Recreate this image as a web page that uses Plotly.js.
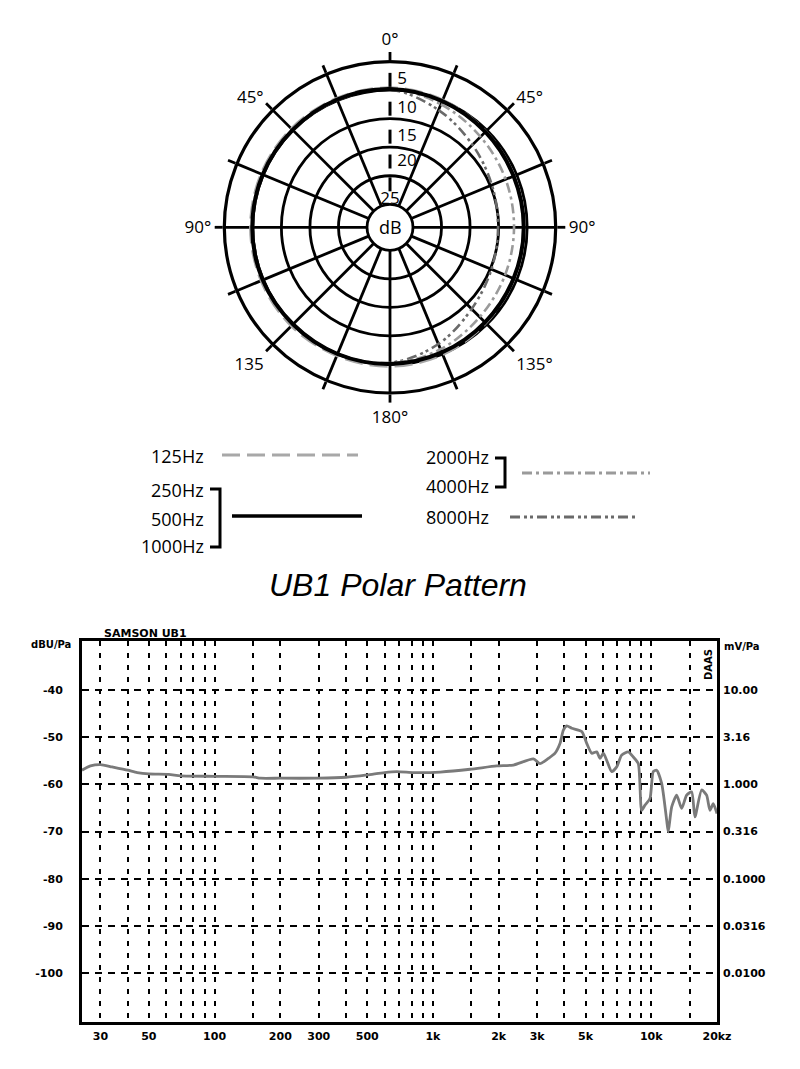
<!DOCTYPE html>
<html>
<head>
<meta charset="utf-8">
<script src="https://cdn.plot.ly/plotly-3.0.1.min.js"></script>
<style>
  html, body { margin: 0; padding: 0; background: #fff; }
  #chart { width: 800px; height: 1069px; }
</style>
</head>
<body>
<div id="chart"></div>
<script>
// ---------------- Polar pattern data (dB, relative) ----------------
const polarAngles = [0, 22.5, 45, 67.5, 90, 112.5, 135, 157.5, 180, 202.5, 225, 247.5, 270, 292.5, 315, 337.5, 360];
const db125   = [-4.6, -4.9, -5.3, -5.5, -5.6, -5.5, -5.3, -4.9, -4.7, -4.7, -4.6, -4.6, -4.6, -4.6, -4.6, -4.6, -4.6];
const db250to1000 = [-4.8, -5.1, -5.4, -5.6, -5.6, -5.6, -5.5, -5.3, -5.1, -5.0, -5.0, -4.9, -4.9, -4.9, -4.9, -4.8, -4.8];
const db2000to4000 = [-4.8, -5.7, -6.6, -7.1, -7.3, -7.2, -6.8, -5.9, -5.2, -5.0, -5.0, -4.9, -4.9, -4.9, -4.9, -4.9, -4.8];
const db8000  = [-4.9, -6.8, -8.6, -9.7, -10.1, -9.8, -8.8, -6.9, -5.3, -5.0, -5.0, -5.0, -5.0, -5.0, -5.0, -4.9, -4.9];

const ringValues = [-25, -20, -15, -10, -5];
const spokeAngles = [22.5, 45, 67.5, 90, 112.5, 135, 157.5, 180, 202.5, 225, 247.5, 270, 292.5, 315, 337.5];
const angTickVals = [0, 22.5, 45, 67.5, 90, 112.5, 135, 157.5, 180, 202.5, 225, 247.5, 270, 292.5, 315, 337.5];
const angTickText = ['0°', '', '45°', '', '90°', '', '135°', '', '180°', '', '135', '', '90°', '', '45°', ''];
const radialLabelText = ['5', '10', '15', '20', '25'];
const radialLabelR = [-3.2, -8.25, -13.15, -17.5, -21.5];

// ---------------- Frequency response data ----------------
const freqHz = [24.7, 27, 30, 33.9, 40, 44.2, 50, 61.6, 70, 100, 150, 162, 200, 300, 400, 500, 600, 683, 814, 970, 1080,
  1480, 1960, 2335, 2884, 3094, 3379, 3625, 3822, 3957, 4101, 4323, 4803, 5063, 5337, 5626, 5826, 6031, 6251,
  6590, 6944, 7319, 7847, 8273, 8720, 9036, 9359, 9863, 10214, 10586, 11158, 11763, 11962, 12403, 13072, 13778,
  14522, 15307, 15849, 17009, 17925, 18561, 19222, 20000];
const levelDb = [-57.0, -56.1, -55.8, -56.3, -57.0, -57.5, -57.8, -57.9, -58.2, -58.3, -58.4, -58.7, -58.7, -58.7, -58.5, -58.0, -57.5, -57.3, -57.5, -57.5, -57.4,
  -56.8, -56.1, -55.9, -54.6, -55.6, -54.5, -53.4, -51.3, -48.5, -47.6, -48.1, -48.8, -51.3, -53.4, -53.1, -54.5, -53.4, -54.9,
  -57.3, -56.3, -53.8, -53.1, -54.2, -55.6, -65.5, -64.4, -63.0, -57.3, -57.0, -59.8, -67.6, -70.1, -64.8, -62.3, -65.1,
  -62.3, -61.6, -66.9, -61.2, -62.3, -65.5, -64.1, -66.2];

const xLabelVals = [30, 50, 100, 200, 300, 500, 1000, 2000, 3000, 5000, 10000, 20000];
const xLabelText = ['30', '50', '100', '200', '300', '500', '1k', '2k', '3k', '5k', '10k', '20kz'];
const xMinorGrid = [40, 60, 70, 80, 90, 150, 400, 600, 700, 800, 900, 1500, 4000, 6000, 7000, 8000, 9000, 15000];
const yTickVals = [-40, -50, -60, -70, -80, -90, -100];
const yLeftText = ['-40', '-50', '-60', '-70', '-80', '-90', '-100'];
const yRightText = ['10.00', '3.16', '1.000', '0.316', '0.1000', '0.0316', '0.0100'];

// ---------------- helpers ----------------
const W = 800, H = 1069;
const px = x => x / W;
const py = y => 1 - y / H;

// spokes built from the spoke angle list
const spokeR = [], spokeT = [];
spokeAngles.forEach(a => { spokeR.push(-25, 0, null); spokeT.push(a, a, null); });

const polarFont = { family: 'Open Sans, Noto Sans, sans-serif', size: 17, color: '#000' };
const chartFont = { family: 'DejaVu Sans, sans-serif', size: 11, color: '#000', weight: 'bold' };
const smallBold = { family: 'DejaVu Sans, sans-serif', size: 10, weight: 'bold', color: '#000' };

const traces = [
  { type: 'scatterpolar', subplot: 'polar', r: spokeR, theta: spokeT, mode: 'lines',
    line: { color: '#000', width: 2.8 }, hoverinfo: 'skip' },
  { type: 'scatterpolar', subplot: 'polar', r: db125, theta: polarAngles, mode: 'lines', name: '125Hz',
    line: { color: '#a8a8a8', width: 3, dash: '18px,7px', shape: 'spline' } },
  { type: 'scatterpolar', subplot: 'polar', r: db8000, theta: polarAngles, mode: 'lines', name: '8000Hz',
    line: { color: '#6a6a6a', width: 2.6, dash: '10px,4px,3px,3px,3px,4px', shape: 'spline' } },
  { type: 'scatterpolar', subplot: 'polar', r: db2000to4000, theta: polarAngles, mode: 'lines', name: '2000/4000Hz',
    line: { color: '#9a9a9a', width: 2.6, dash: '10px,4px,3px,4px', shape: 'spline' } },
  { type: 'scatterpolar', subplot: 'polar', r: db250to1000, theta: polarAngles, mode: 'lines', name: '250-1000Hz',
    line: { color: '#000', width: 4, shape: 'spline' } },
  { type: 'scatterpolar', subplot: 'polar', r: radialLabelR, theta: radialLabelR.map(() => 0),
    mode: 'markers+text', text: radialLabelText,
    textposition: ['middle right', 'middle right', 'middle right', 'middle right', 'bottom center'],
    textfont: polarFont, cliponaxis: false,
    marker: { symbol: 'line-ns', size: 10, line: { color: '#000', width: 3 }, color: '#000' }, hoverinfo: 'skip' },
  { type: 'scatter', x: freqHz, y: levelDb, xaxis: 'x', yaxis: 'y', mode: 'lines',
    line: { color: '#7a7a7a', width: 2.8, shape: 'spline', smoothing: 0.6 }, name: 'SAMSON UB1' },
  { type: 'scatter', x: [freqHz[0]], y: [levelDb[0]], xaxis: 'x', yaxis: 'y2', mode: 'markers',
    marker: { opacity: 0 }, hoverinfo: 'skip' }
];

const dashGridV = '5px,7px';
const dashGridH = '7px,6px';

const layout = {
  width: W, height: H,
  margin: { l: 0, r: 0, t: 0, b: 0 },
  paper_bgcolor: '#fff', plot_bgcolor: '#fff',
  showlegend: false,
  polar: {
    domain: { x: [(390 - 165.7) / W, (390 + 165.7) / W], y: [1 - 393 / H, 1 - 61.6 / H] },
    bgcolor: '#fff',
    radialaxis: { range: [-29.03, 0], tickvals: ringValues, showticklabels: false, ticks: '',
      showline: false, showgrid: true, gridcolor: '#000', gridwidth: 2.8 },
    angularaxis: { rotation: 90, direction: 'clockwise', tickvals: angTickVals, ticktext: angTickText,
      ticks: 'outside', ticklen: 8, tickwidth: 2.8, tickcolor: '#000', showgrid: false,
      showline: true, linecolor: '#000', linewidth: 3.2, tickfont: polarFont }
  },
  xaxis: {
    type: 'log', domain: [82 / W, 717 / W], range: [Math.log10(24.7), Math.log10(20000)],
    tickvals: xLabelVals, ticktext: xLabelText, tickfont: chartFont, ticks: '', ticklabelstandoff: 2,
    showgrid: true, gridcolor: '#000', gridwidth: 2, griddash: dashGridV,
    minor: { tickvals: xMinorGrid, showgrid: true, gridcolor: '#000', gridwidth: 2, griddash: dashGridV, ticks: '' },
    showline: true, mirror: true, linecolor: '#000', linewidth: 3, zeroline: false, anchor: 'y'
  },
  yaxis: {
    domain: [1 - 1022 / H, 1 - 641 / H], range: [-110.4, -29.6],
    tickvals: yTickVals, ticktext: yLeftText, tickfont: chartFont, ticks: '', ticklabelstandoff: 14,
    showgrid: true, gridcolor: '#000', gridwidth: 2, griddash: dashGridH,
    showline: true, mirror: true, linecolor: '#000', linewidth: 3, zeroline: false, anchor: 'x'
  },
  yaxis2: {
    overlaying: 'y', side: 'right', anchor: 'x', range: [-110.4, -29.6],
    tickvals: yTickVals, ticktext: yRightText, tickfont: chartFont, ticks: '', ticklabelstandoff: 5,
    showgrid: false, showline: false, zeroline: false
  },
  annotations: [
    { text: 'dB', x: px(390), y: py(227), xref: 'paper', yref: 'paper', xanchor: 'center', yanchor: 'middle',
      showarrow: false, font: { family: 'Open Sans, Noto Sans, sans-serif', size: 18, color: '#000' } },
    // legend texts
    ...[['125Hz', 456], ['250Hz', 490], ['500Hz', 519], ['1000Hz', 546]].map(([t, y]) => ({
      text: t, x: px(206), y: py(y), xref: 'paper', yref: 'paper', xanchor: 'right', yanchor: 'middle',
      showarrow: false, font: { family: 'Open Sans, Noto Sans, sans-serif', size: 18, color: '#000' } })),
    ...[['2000Hz', 457], ['4000Hz', 486], ['8000Hz', 517]].map(([t, y]) => ({
      text: t, x: px(491), y: py(y), xref: 'paper', yref: 'paper', xanchor: 'right', yanchor: 'middle',
      showarrow: false, font: { family: 'Open Sans, Noto Sans, sans-serif', size: 18, color: '#000' } })),
    { text: 'UB1 Polar Pattern', x: px(398), y: py(585), xref: 'paper', yref: 'paper', showarrow: false,
      xanchor: 'center', yanchor: 'middle',
      font: { family: 'Liberation Sans Narrow, Liberation Sans, Arial, sans-serif', size: 32, style: 'italic', color: '#000' } },
    { text: 'SAMSON UB1', x: px(102), y: py(633), xref: 'paper', yref: 'paper', xanchor: 'left', yanchor: 'middle',
      showarrow: false, font: { family: 'DejaVu Sans, sans-serif', size: 11, weight: 'bold', color: '#000' } },
    { text: 'dBU/Pa', x: px(51), y: py(644), xref: 'paper', yref: 'paper', xanchor: 'center', yanchor: 'middle',
      showarrow: false, font: smallBold },
    { text: 'mV/Pa', x: px(742), y: py(646), xref: 'paper', yref: 'paper', xanchor: 'center', yanchor: 'middle',
      showarrow: false, font: smallBold },
    { text: 'DAAS', x: px(708), y: py(665), xref: 'paper', yref: 'paper', xanchor: 'center', yanchor: 'middle',
      textangle: -90, showarrow: false, font: smallBold }
  ],
  shapes: [
    { type: 'line', xref: 'paper', yref: 'paper', x0: px(222), x1: px(358), y0: py(455), y1: py(455),
      line: { color: '#a8a8a8', width: 3, dash: '18px,7px' } },
    { type: 'line', xref: 'paper', yref: 'paper', x0: px(232), x1: px(362), y0: py(516), y1: py(516),
      line: { color: '#000', width: 3.5 } },
    { type: 'line', xref: 'paper', yref: 'paper', x0: px(522), x1: px(650), y0: py(473), y1: py(473),
      line: { color: '#9a9a9a', width: 3, dash: '10px,4px,3px,4px' } },
    { type: 'line', xref: 'paper', yref: 'paper', x0: px(510), x1: px(635), y0: py(517), y1: py(517),
      line: { color: '#6a6a6a', width: 3, dash: '10px,4px,3px,3px,3px,4px' } },
    { type: 'path', xref: 'paper', yref: 'paper',
      path: `M ${px(210)},${py(489)} L ${px(220)},${py(489)} L ${px(220)},${py(547)} L ${px(210)},${py(547)}`,
      line: { color: '#000', width: 3 } },
    { type: 'path', xref: 'paper', yref: 'paper',
      path: `M ${px(495)},${py(458)} L ${px(505)},${py(458)} L ${px(505)},${py(487)} L ${px(495)},${py(487)}`,
      line: { color: '#000', width: 3 } }
  ]
};

Plotly.newPlot('chart', traces, layout, { staticPlot: true, displayModeBar: false });
</script>
</body>
</html>
